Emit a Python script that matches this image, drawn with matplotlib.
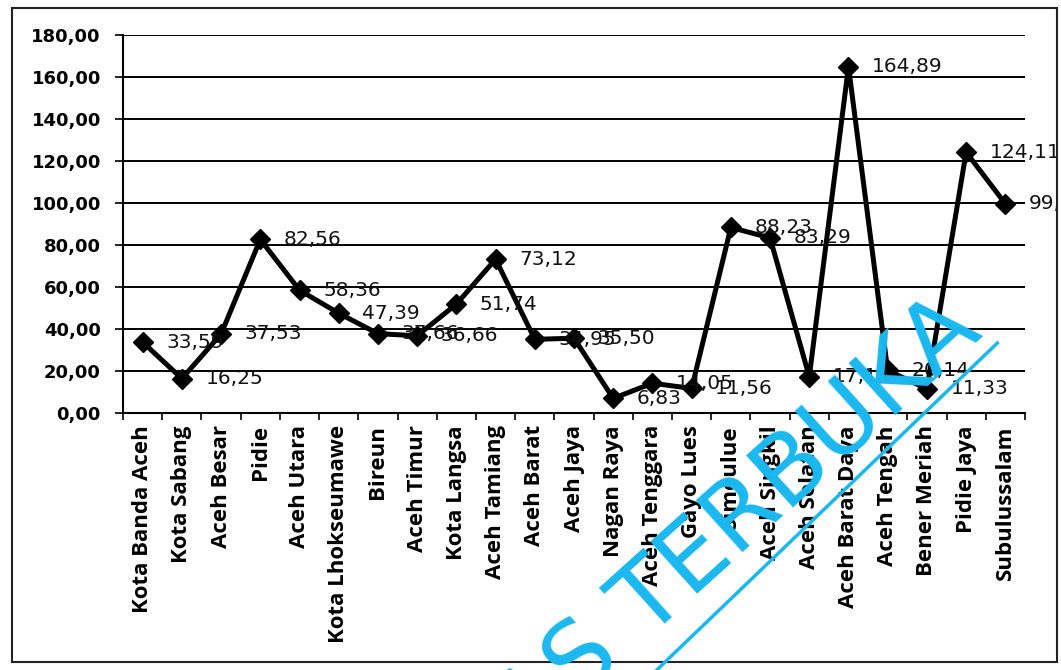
import matplotlib.pyplot as plt
from matplotlib.patches import Rectangle

kabupaten = ["Kota Banda Aceh", "Kota Sabang", "Aceh Besar", "Pidie", "Aceh Utara",
             "Kota Lhokseumawe", "Bireun", "Aceh Timur", "Kota Langsa", "Aceh Tamiang",
             "Aceh Barat", "Aceh Jaya", "Nagan Raya", "Aceh Tenggara", "Gayo Lues",
             "Simeulue", "Aceh Singkil", "Aceh Selatan", "Aceh Barat Daya", "Aceh Tengah",
             "Bener Meriah", "Pidie Jaya", "Subulussalam"]
nilai = [33.59, 16.25, 37.53, 82.56, 58.36,
         47.39, 37.66, 36.66, 51.74, 73.12,
         34.95, 35.50, 6.83, 14.05, 11.56,
         88.23, 83.29, 17.15, 164.89, 20.14,
         11.33, 124.11, 99.54]

yticks = [0, 20, 40, 60, 80, 100, 120, 140, 160, 180]


def koma(v):
    return f"{v:.2f}".replace(".", ",")


fig = plt.figure(figsize=(10.61, 6.70), dpi=100)
ax = fig.add_axes([0.116, 0.384, 0.850, 0.564])

x = list(range(len(nilai)))
ax.plot(x, nilai, color="black", lw=3.6, marker="D", markersize=10,
        markerfacecolor="black", markeredgecolor="black", zorder=3, clip_on=False)

for xi, v in zip(x, nilai):
    ax.annotate(koma(v), (xi, v), xytext=(17, 0), textcoords="offset points",
                ha="left", va="center", fontsize=14.5, family="DejaVu Sans",
                color="#111111", zorder=4, annotation_clip=False)

ax.set_xlim(-0.5, len(nilai) - 0.5)
ax.set_ylim(0, 180)
ax.set_yticks(yticks)
ax.set_yticklabels([koma(t) for t in yticks], fontsize=13, fontweight="bold")
ax.yaxis.grid(True, color="black", lw=1.4)
ax.set_axisbelow(True)

ax.set_xticks(x)
ax.set_xticklabels(kabupaten, rotation=90, fontsize=16, fontweight="bold",
                   family="Open Sans")
ax.tick_params(axis="x", length=0, pad=9)
ax.set_xticks([i - 0.5 for i in range(len(nilai) + 1)], minor=True)
ax.tick_params(axis="x", which="minor", length=5, width=1.2, direction="out")
ax.tick_params(axis="y", length=6, width=1.2, direction="out", pad=10)

for side in ["top", "right"]:
    ax.spines[side].set_visible(False)
ax.spines["left"].set_linewidth(1.5)
ax.spines["bottom"].set_linewidth(1.5)

# outer chart border
fig.patches.append(Rectangle((0.011, 0.012), 0.985, 0.976, transform=fig.transFigure,
                             fill=False, lw=1.5, edgecolor="#222222"))

# watermark
fig.text(0.928, 0.50, "UNIVERSITAS TERBUKA", rotation=42, fontsize=70,
         color="#1ab8f0", ha="right", va="baseline", rotation_mode="anchor",
         family="DejaVu Sans")
fig.add_artist(plt.Line2D([0.619, 0.940], [0.0, 0.488], color="#1ab8f0", lw=2.5,
                          transform=fig.transFigure))

fig.savefig("out.png", dpi=100)
